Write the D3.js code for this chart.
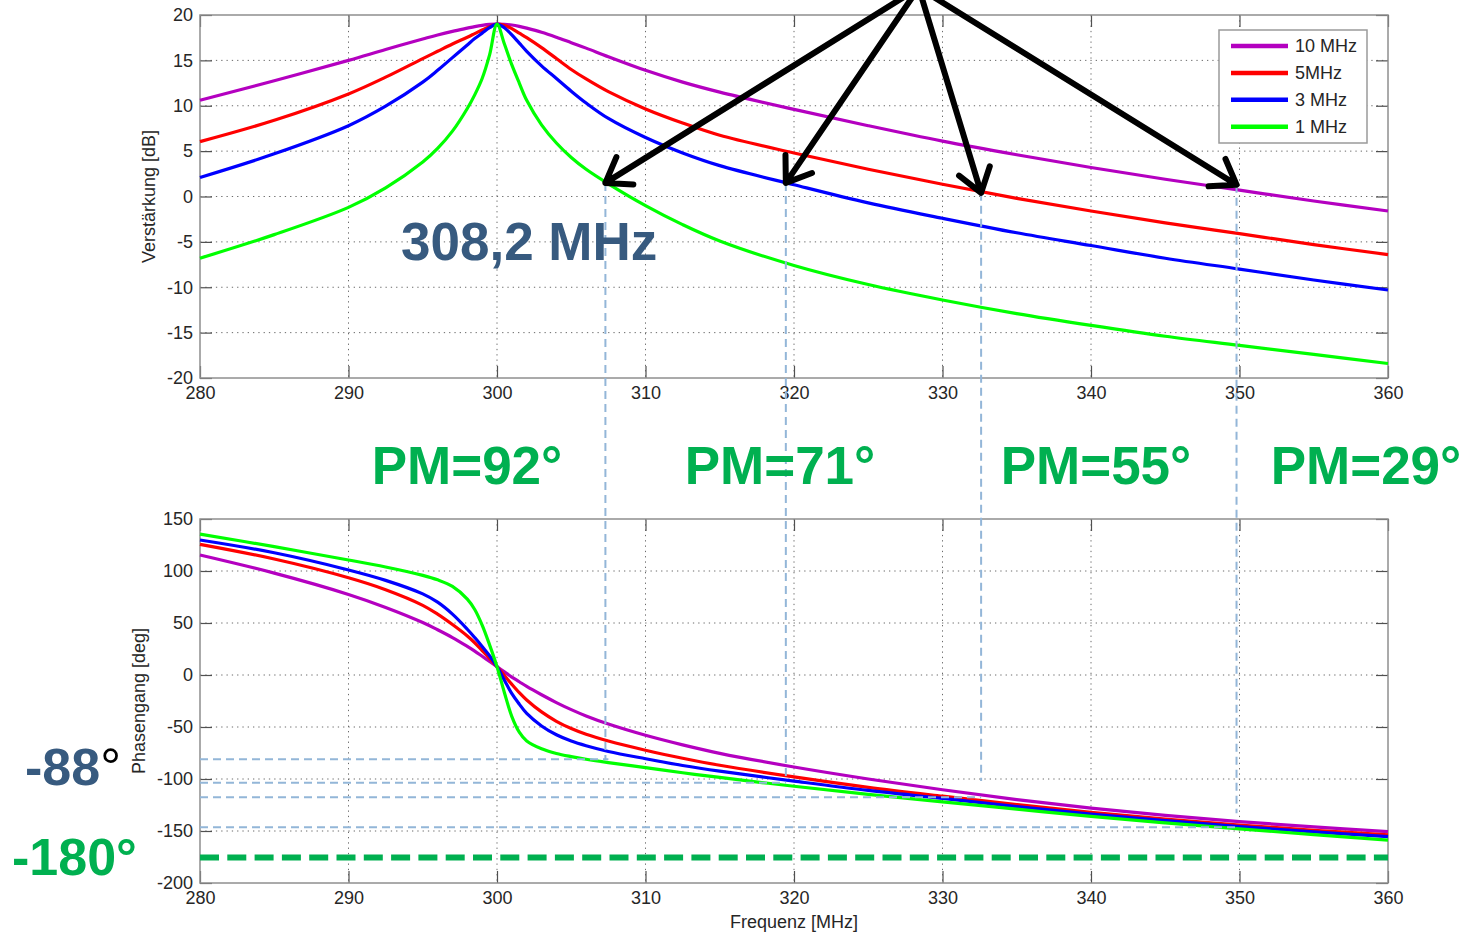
<!DOCTYPE html>
<html><head><meta charset="utf-8">
<script src="https://cdn.jsdelivr.net/npm/d3@7"></script>
<style>body{margin:0;background:#fff}svg{display:block}</style>
</head><body><svg id="c" width="1472" height="934"></svg>
<script>
// ---------- data ----------
const freqs = [280,285,290,292.5,295,296,297,298,298.5,299,299.5,300,300.5,301,301.5,302,303,304,305,306,307.5,310,312.5,315,320,325,330,335,340,345,350,355,360];
const seriesNames = ["10 MHz","5MHz","3 MHz","1 MHz"];
const seriesColors = ["#b400c0","#ff0000","#0000ff","#00ff00"];
const gain10 = [10.6,12.75,15.0,16.2,17.35,17.8,18.2,18.55,18.72,18.86,18.96,19.0,18.97,18.9,18.75,18.55,18.1,17.55,16.95,16.35,15.4,13.9,12.6,11.5,9.6,7.8,6.1,4.6,3.2,1.9,0.7,-0.5,-1.6];
const gain5  = [6.05,8.4,11.3,13.15,15.2,16.0,16.8,17.55,17.95,18.35,18.72,19.0,18.85,18.5,18.0,17.5,16.4,15.2,14.0,12.95,11.55,9.65,8.1,6.75,4.8,3.0,1.35,-0.2,-1.6,-2.9,-4.1,-5.3,-6.4];
const gain3  = [2.1,4.7,7.8,9.95,12.6,13.9,15.3,16.7,17.4,18.0,18.6,19.0,18.6,17.8,16.9,16.0,14.4,13.0,11.6,10.3,8.6,6.5,4.8,3.4,1.3,-0.7,-2.4,-4.0,-5.4,-6.8,-8.0,-9.2,-10.3];
const gain1  = [-6.8,-4.2,-1.2,0.95,3.8,5.3,7.2,9.7,11.2,13.0,15.6,19.0,16.8,14.5,12.5,10.6,7.9,5.9,4.3,3.0,1.4,-1.0,-3.1,-4.9,-7.6,-9.7,-11.4,-12.9,-14.2,-15.4,-16.4,-17.4,-18.4];
const phase10 = [115.4,98,77.5,65,50.5,43.5,36,27.5,23,18,13,8,3,-2,-6.5,-11,-19,-26.5,-33.3,-39.4,-47.2,-58,-67.2,-75.3,-88.5,-100,-110.3,-119.8,-128,-135,-141,-146,-150.6];
const phase5  = [125.6,111.5,93.5,82,67,58.5,48.5,37.5,31,23.5,16,8,-0.5,-9,-17,-24,-35.5,-44.5,-51.5,-57,-63.5,-72.3,-80,-86.8,-98,-108,-116.5,-124.5,-132,-138.6,-144.3,-149.3,-153.8];
const phase3  = [129.8,117.5,101,91,78,70,58.5,44,36,27.5,18.5,8,-5,-18,-28,-37,-49,-57.5,-63.5,-68,-73.5,-80.5,-87,-92.5,-102,-111,-118.6,-126.5,-133.7,-140,-145.8,-150.8,-155.4];
const phase1  = [135.5,123.4,110.6,103.8,95.8,91.5,85.2,73,63,48,29,8,-17,-40,-55,-63.5,-71,-75.5,-78.5,-81,-84.2,-89,-94,-98.5,-107,-114.8,-122,-129,-136,-142.2,-148,-153.5,-158.7];
const xTicks = [280,290,300,310,320,330,340,350,360];
const gainTicks = [-20,-15,-10,-5,0,5,10,15,20];
const phaseTicks = [-200,-150,-100,-50,0,50,100,150];
const markerFreqs = [307.3,319.45,332.6,349.8];
const markerGain = [1.5,1.5,0.4,1.3];
const markerPhase = [-81,-103.5,-117.5,-146.5];
const markerPhaseEnd = [-81,-101,-102,-133];
const pmLabels = ["PM=92°","PM=71°","PM=55°","PM=29°"];
const arrowOrigin = [328.4, 23]; // freq, gain (above the plot)
const limitPhase = -175.5;

const gains = [gain10,gain5,gain3,gain1];
const phases = [phase10,phase5,phase3,phase1];

// ---------- layout ----------
const svg = d3.select("#c");
const FONT = "'Liberation Sans', Arial, sans-serif";
const x = d3.scaleLinear([280,360],[200,1388]);
const yG = d3.scaleLinear([-20,20],[378,15]);
const yP = d3.scaleLinear([-200,150],[883,519]);
const fmt = d => String(d);

function panel(y, yTicks, ylabel) {
  const g = svg.append("g");
  const [y0,y1] = y.range();
  g.append("g").selectAll("line").data(xTicks.slice(1,-1)).join("line")
    .attr("x1",d=>x(d)).attr("x2",d=>x(d)).attr("y1",y1).attr("y2",y0)
    .attr("stroke","#6a6a6a").attr("stroke-width",1).attr("stroke-dasharray","1.3,4");
  g.append("g").selectAll("line").data(yTicks.slice(1,-1)).join("line")
    .attr("x1",200).attr("x2",1388).attr("y1",d=>y(d)).attr("y2",d=>y(d))
    .attr("stroke","#6a6a6a").attr("stroke-width",1).attr("stroke-dasharray","1.3,4");
  const styleAx = sel => {
    sel.select(".domain").remove();
    sel.selectAll(".tick line").attr("stroke","#505050").attr("stroke-width",1.2);
    sel.selectAll("text").attr("font-family",FONT).attr("font-size",18).attr("fill","#262626");
  };
  g.append("g").attr("transform",`translate(0,${y0})`)
    .call(d3.axisBottom(x).tickValues(xTicks).tickSizeInner(-12).tickSizeOuter(0).tickPadding(8).tickFormat(fmt)).call(styleAx);
  g.append("g").attr("transform",`translate(0,${y1})`)
    .call(d3.axisTop(x).tickValues(xTicks).tickSizeInner(-12).tickSizeOuter(0).tickFormat("")).call(styleAx);
  g.append("g").attr("transform",`translate(200,0)`)
    .call(d3.axisLeft(y).tickValues(yTicks).tickSizeInner(-12).tickSizeOuter(0).tickPadding(7).tickFormat(fmt)).call(styleAx);
  g.append("g").attr("transform",`translate(1388,0)`)
    .call(d3.axisRight(y).tickValues(yTicks).tickSizeInner(-12).tickSizeOuter(0).tickFormat("")).call(styleAx);
  g.append("rect").attr("x",200).attr("y",y1).attr("width",1188).attr("height",y0-y1)
    .attr("fill","none").attr("stroke","#8f8f8f").attr("stroke-width",1.5);
  g.append("text").attr("transform",`translate(${ylabel.x},${(y0+y1)/2}) rotate(-90)`)
    .attr("text-anchor","middle").attr("font-family",FONT).attr("font-size",18).attr("fill","#262626")
    .text(ylabel.text);
  return g;
}

const gTop = panel(yG, gainTicks, {text:"Verstärkung [dB]", x:155});
const gBot = panel(yP, phaseTicks, {text:"Phasengang [deg]", x:145});

svg.append("text").attr("x",x(320)).attr("y",928).attr("text-anchor","middle")
  .attr("font-family",FONT).attr("font-size",18).attr("fill","#262626").text("Frequenz [MHz]");

// curves
const curve = d3.curveCatmullRom.alpha(0.5);
const lineG = d3.line().x((d,i)=>x(freqs[i])).y(d=>yG(d)).curve(curve);
const lineP = d3.line().x((d,i)=>x(freqs[i])).y(d=>yP(d)).curve(curve);
gains.forEach((s,k)=>{
  gTop.append("path").attr("d",lineG(s)).attr("fill","none").attr("stroke",seriesColors[k]).attr("stroke-width",3.2);
});
phases.forEach((s,k)=>{
  gBot.append("path").attr("d",lineP(s)).attr("fill","none").attr("stroke",seriesColors[k]).attr("stroke-width",3.2);
});

// legend
const lg = svg.append("g");
lg.append("rect").attr("x",1219).attr("y",30).attr("width",148).attr("height",113)
  .attr("fill","#fff").attr("stroke","#9a9a9a").attr("stroke-width",1.5);
seriesNames.forEach((n,k)=>{
  const yy = 46 + k*26.9;
  lg.append("line").attr("x1",1231).attr("x2",1288).attr("y1",yy).attr("y2",yy)
    .attr("stroke",seriesColors[k]).attr("stroke-width",4.5);
  lg.append("text").attr("x",1295).attr("y",yy).attr("dy","0.35em")
    .attr("font-family",FONT).attr("font-size",18).attr("fill","#262626").text(n);
});

// helper dashed lines
const blue = "#93b6d8";
const ov = svg.append("g");
markerFreqs.forEach((f,i)=>{
  ov.append("line").attr("x1",x(f)).attr("x2",x(f)).attr("y1",yG(markerGain[i])).attr("y2",yP(markerPhaseEnd[i]))
    .attr("stroke",blue).attr("stroke-width",2).attr("stroke-dasharray","8,5");
  ov.append("line").attr("x1",x(280)).attr("x2",x(f)+(i===0?3:0)).attr("y1",yP(markerPhase[i])).attr("y2",yP(markerPhase[i]))
    .attr("stroke",blue).attr("stroke-width",2).attr("stroke-dasharray","8,5");
});
ov.append("line").attr("x1",x(280)).attr("x2",x(360)).attr("y1",yP(limitPhase)).attr("y2",yP(limitPhase))
  .attr("stroke","#00b050").attr("stroke-width",6).attr("stroke-dasharray","19,8.3");

// arrows
const ox = x(arrowOrigin[0]), oy = yG(arrowOrigin[1]);
markerFreqs.forEach((f,i)=>{
  const tx = x(f), ty = yG(markerGain[i]);
  const ang = Math.atan2(oy-ty, ox-tx);
  const L = 28, h = 35*Math.PI/180;
  const p = d3.path();
  p.moveTo(ox,oy); p.lineTo(tx,ty);
  p.moveTo(tx+L*Math.cos(ang+h), ty+L*Math.sin(ang+h)); p.lineTo(tx,ty);
  p.lineTo(tx+L*Math.cos(ang-h), ty+L*Math.sin(ang-h));
  ov.append("path").attr("d",p.toString()).attr("fill","none").attr("stroke","#000")
    .attr("stroke-width",6).attr("stroke-linecap","round").attr("stroke-linejoin","round");
});

// annotation texts
const dark = "#375a7f", green = "#00b050";
svg.append("text").attr("x",401).attr("y",260).attr("font-family",FONT).attr("font-weight","bold")
  .attr("font-size",53).attr("fill",dark).text("308,2 MHz");
const pmX = [467,780,1096,1366];
pmLabels.forEach((t,i)=>{
  svg.append("text").attr("x",pmX[i]).attr("y",484).attr("text-anchor","middle").attr("font-family",FONT)
    .attr("font-weight","bold").attr("font-size",53).attr("fill",green).text(t);
});
const t88 = svg.append("text").attr("x",25).attr("y",785).attr("font-family",FONT).attr("font-weight","bold")
  .attr("font-size",52).attr("fill",dark);
t88.append("tspan").text("-88");
t88.append("tspan").attr("font-weight","normal").attr("fill","#000").text("°");
svg.append("text").attr("x",12).attr("y",875).attr("font-family",FONT).attr("font-weight","bold")
  .attr("font-size",52).attr("fill",green).text("-180°");
</script></body></html>
